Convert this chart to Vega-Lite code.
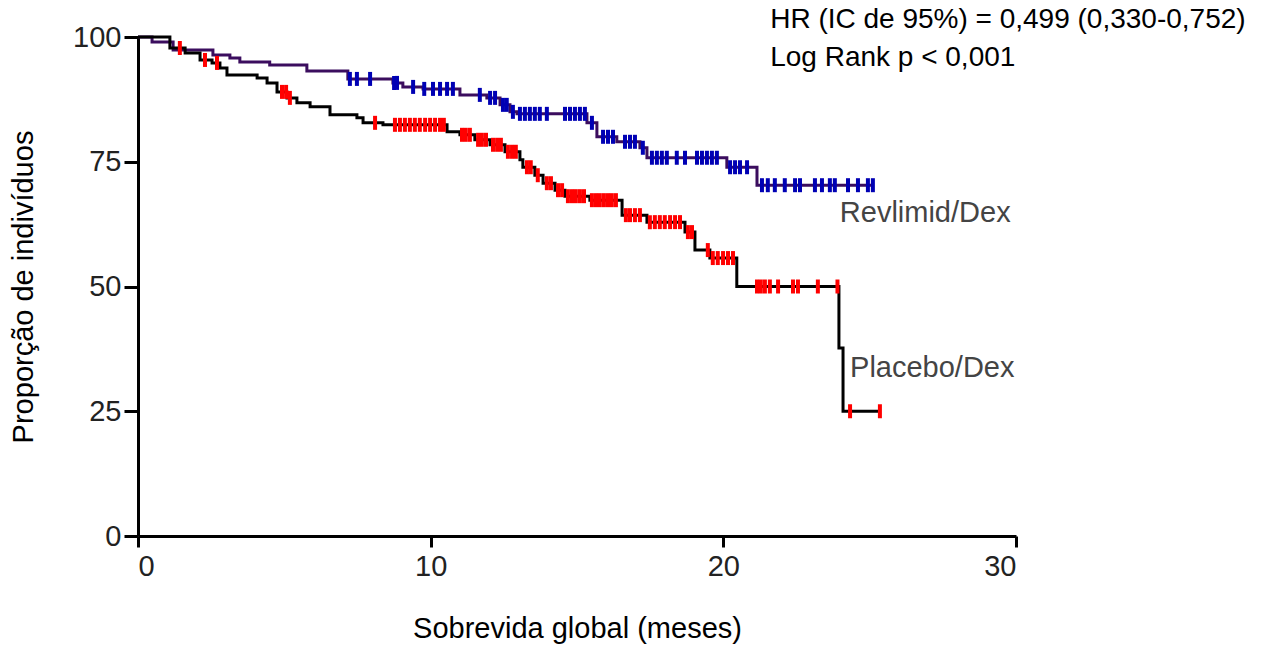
{
  "$schema": "https://vega.github.io/schema/vega-lite/v6.json",
  "autosize": "none",
  "width": 878,
  "height": 499,
  "padding": {"left": 138, "top": 37, "right": 272, "bottom": 113},
  "background": "white",
  "config": {
    "view": {"stroke": null},
    "font": "Liberation Sans",
    "axis": {"grid": false, "domainColor": "#000", "domainWidth": 3, "tickColor": "#000", "tickWidth": 3, "labelColor": "#222", "labelFont": "Liberation Sans", "labelFontSize": 29, "titleFont": "Liberation Sans", "titleFontSize": 29, "titleFontWeight": "normal", "titleColor": "#000"}
  },
  "datasets": {
    "curves": [
      {"grupo": "Revlimid/Dex", "t": 0, "s": 100},
      {"grupo": "Revlimid/Dex", "t": 0.48, "s": 99.0},
      {"grupo": "Revlimid/Dex", "t": 1.2, "s": 97.4},
      {"grupo": "Revlimid/Dex", "t": 2.56, "s": 96.4},
      {"grupo": "Revlimid/Dex", "t": 3.14, "s": 95.8},
      {"grupo": "Revlimid/Dex", "t": 3.48, "s": 95.0},
      {"grupo": "Revlimid/Dex", "t": 4.5, "s": 94.4},
      {"grupo": "Revlimid/Dex", "t": 5.77, "s": 93.2},
      {"grupo": "Revlimid/Dex", "t": 7.17, "s": 91.6},
      {"grupo": "Revlimid/Dex", "t": 8.71, "s": 90.8},
      {"grupo": "Revlimid/Dex", "t": 9.05, "s": 90.0},
      {"grupo": "Revlimid/Dex", "t": 9.74, "s": 89.6},
      {"grupo": "Revlimid/Dex", "t": 11.0, "s": 88.4},
      {"grupo": "Revlimid/Dex", "t": 11.92, "s": 87.8},
      {"grupo": "Revlimid/Dex", "t": 12.37, "s": 86.4},
      {"grupo": "Revlimid/Dex", "t": 12.71, "s": 85.0},
      {"grupo": "Revlimid/Dex", "t": 12.95, "s": 84.6},
      {"grupo": "Revlimid/Dex", "t": 15.34, "s": 82.8},
      {"grupo": "Revlimid/Dex", "t": 15.68, "s": 80.0},
      {"grupo": "Revlimid/Dex", "t": 16.36, "s": 79.0},
      {"grupo": "Revlimid/Dex", "t": 17.15, "s": 77.8},
      {"grupo": "Revlimid/Dex", "t": 17.39, "s": 75.8},
      {"grupo": "Revlimid/Dex", "t": 20.12, "s": 73.9},
      {"grupo": "Revlimid/Dex", "t": 21.15, "s": 70.3},
      {"grupo": "Revlimid/Dex", "t": 25.11, "s": 70.3},
      {"grupo": "Placebo/Dex", "t": 0, "s": 100},
      {"grupo": "Placebo/Dex", "t": 1.09, "s": 97.8},
      {"grupo": "Placebo/Dex", "t": 1.61, "s": 96.8},
      {"grupo": "Placebo/Dex", "t": 2.12, "s": 95.4},
      {"grupo": "Placebo/Dex", "t": 2.53, "s": 94.8},
      {"grupo": "Placebo/Dex", "t": 2.8, "s": 93.8},
      {"grupo": "Placebo/Dex", "t": 3.04, "s": 92.4},
      {"grupo": "Placebo/Dex", "t": 4.07, "s": 91.8},
      {"grupo": "Placebo/Dex", "t": 4.41, "s": 90.8},
      {"grupo": "Placebo/Dex", "t": 4.75, "s": 89.0},
      {"grupo": "Placebo/Dex", "t": 5.09, "s": 87.8},
      {"grupo": "Placebo/Dex", "t": 5.43, "s": 86.8},
      {"grupo": "Placebo/Dex", "t": 5.88, "s": 86.0},
      {"grupo": "Placebo/Dex", "t": 6.56, "s": 84.4},
      {"grupo": "Placebo/Dex", "t": 7.48, "s": 83.8},
      {"grupo": "Placebo/Dex", "t": 7.69, "s": 82.8},
      {"grupo": "Placebo/Dex", "t": 8.37, "s": 82.4},
      {"grupo": "Placebo/Dex", "t": 10.56, "s": 81.0},
      {"grupo": "Placebo/Dex", "t": 11.0, "s": 80.4},
      {"grupo": "Placebo/Dex", "t": 11.51, "s": 79.4},
      {"grupo": "Placebo/Dex", "t": 12.03, "s": 78.4},
      {"grupo": "Placebo/Dex", "t": 12.54, "s": 77.0},
      {"grupo": "Placebo/Dex", "t": 13.05, "s": 75.4},
      {"grupo": "Placebo/Dex", "t": 13.15, "s": 73.9},
      {"grupo": "Placebo/Dex", "t": 13.56, "s": 72.3},
      {"grupo": "Placebo/Dex", "t": 13.84, "s": 70.7},
      {"grupo": "Placebo/Dex", "t": 14.25, "s": 69.3},
      {"grupo": "Placebo/Dex", "t": 14.59, "s": 68.1},
      {"grupo": "Placebo/Dex", "t": 15.44, "s": 67.3},
      {"grupo": "Placebo/Dex", "t": 16.54, "s": 64.3},
      {"grupo": "Placebo/Dex", "t": 17.39, "s": 62.9},
      {"grupo": "Placebo/Dex", "t": 18.69, "s": 60.9},
      {"grupo": "Placebo/Dex", "t": 19.03, "s": 57.3},
      {"grupo": "Placebo/Dex", "t": 19.54, "s": 55.7},
      {"grupo": "Placebo/Dex", "t": 20.46, "s": 50},
      {"grupo": "Placebo/Dex", "t": 23.95, "s": 37.7},
      {"grupo": "Placebo/Dex", "t": 24.09, "s": 25},
      {"grupo": "Placebo/Dex", "t": 25.35, "s": 25}
    ],
    "censors": [
      {"grupo": "Revlimid/Dex", "t": 7.24, "s": 91.6},
      {"grupo": "Revlimid/Dex", "t": 7.48, "s": 91.6},
      {"grupo": "Revlimid/Dex", "t": 7.93, "s": 91.6},
      {"grupo": "Revlimid/Dex", "t": 8.75, "s": 90.8},
      {"grupo": "Revlimid/Dex", "t": 8.85, "s": 90.8},
      {"grupo": "Revlimid/Dex", "t": 9.4, "s": 90.0},
      {"grupo": "Revlimid/Dex", "t": 9.78, "s": 89.6},
      {"grupo": "Revlimid/Dex", "t": 10.08, "s": 89.6},
      {"grupo": "Revlimid/Dex", "t": 10.32, "s": 89.6},
      {"grupo": "Revlimid/Dex", "t": 10.56, "s": 89.6},
      {"grupo": "Revlimid/Dex", "t": 10.76, "s": 89.6},
      {"grupo": "Revlimid/Dex", "t": 11.68, "s": 88.4},
      {"grupo": "Revlimid/Dex", "t": 12.03, "s": 87.8},
      {"grupo": "Revlimid/Dex", "t": 12.2, "s": 87.8},
      {"grupo": "Revlimid/Dex", "t": 12.47, "s": 86.4},
      {"grupo": "Revlimid/Dex", "t": 12.6, "s": 86.4},
      {"grupo": "Revlimid/Dex", "t": 12.81, "s": 85.0},
      {"grupo": "Revlimid/Dex", "t": 13.05, "s": 84.6},
      {"grupo": "Revlimid/Dex", "t": 13.22, "s": 84.6},
      {"grupo": "Revlimid/Dex", "t": 13.39, "s": 84.6},
      {"grupo": "Revlimid/Dex", "t": 13.56, "s": 84.6},
      {"grupo": "Revlimid/Dex", "t": 13.73, "s": 84.6},
      {"grupo": "Revlimid/Dex", "t": 13.97, "s": 84.6},
      {"grupo": "Revlimid/Dex", "t": 14.59, "s": 84.6},
      {"grupo": "Revlimid/Dex", "t": 14.76, "s": 84.6},
      {"grupo": "Revlimid/Dex", "t": 14.93, "s": 84.6},
      {"grupo": "Revlimid/Dex", "t": 15.1, "s": 84.6},
      {"grupo": "Revlimid/Dex", "t": 15.27, "s": 84.6},
      {"grupo": "Revlimid/Dex", "t": 15.51, "s": 82.8},
      {"grupo": "Revlimid/Dex", "t": 15.89, "s": 80.0},
      {"grupo": "Revlimid/Dex", "t": 16.06, "s": 80.0},
      {"grupo": "Revlimid/Dex", "t": 16.23, "s": 80.0},
      {"grupo": "Revlimid/Dex", "t": 16.64, "s": 79.0},
      {"grupo": "Revlimid/Dex", "t": 16.81, "s": 79.0},
      {"grupo": "Revlimid/Dex", "t": 16.98, "s": 79.0},
      {"grupo": "Revlimid/Dex", "t": 17.25, "s": 77.8},
      {"grupo": "Revlimid/Dex", "t": 17.56, "s": 75.8},
      {"grupo": "Revlimid/Dex", "t": 17.73, "s": 75.8},
      {"grupo": "Revlimid/Dex", "t": 17.9, "s": 75.8},
      {"grupo": "Revlimid/Dex", "t": 18.07, "s": 75.8},
      {"grupo": "Revlimid/Dex", "t": 18.41, "s": 75.8},
      {"grupo": "Revlimid/Dex", "t": 18.69, "s": 75.8},
      {"grupo": "Revlimid/Dex", "t": 19.1, "s": 75.8},
      {"grupo": "Revlimid/Dex", "t": 19.27, "s": 75.8},
      {"grupo": "Revlimid/Dex", "t": 19.44, "s": 75.8},
      {"grupo": "Revlimid/Dex", "t": 19.61, "s": 75.8},
      {"grupo": "Revlimid/Dex", "t": 19.78, "s": 75.8},
      {"grupo": "Revlimid/Dex", "t": 20.23, "s": 73.9},
      {"grupo": "Revlimid/Dex", "t": 20.4, "s": 73.9},
      {"grupo": "Revlimid/Dex", "t": 20.57, "s": 73.9},
      {"grupo": "Revlimid/Dex", "t": 20.81, "s": 73.9},
      {"grupo": "Revlimid/Dex", "t": 21.32, "s": 70.3},
      {"grupo": "Revlimid/Dex", "t": 21.52, "s": 70.3},
      {"grupo": "Revlimid/Dex", "t": 21.76, "s": 70.3},
      {"grupo": "Revlimid/Dex", "t": 22.1, "s": 70.3},
      {"grupo": "Revlimid/Dex", "t": 22.45, "s": 70.3},
      {"grupo": "Revlimid/Dex", "t": 22.62, "s": 70.3},
      {"grupo": "Revlimid/Dex", "t": 23.13, "s": 70.3},
      {"grupo": "Revlimid/Dex", "t": 23.37, "s": 70.3},
      {"grupo": "Revlimid/Dex", "t": 23.64, "s": 70.3},
      {"grupo": "Revlimid/Dex", "t": 23.81, "s": 70.3},
      {"grupo": "Revlimid/Dex", "t": 24.26, "s": 70.3},
      {"grupo": "Revlimid/Dex", "t": 24.6, "s": 70.3},
      {"grupo": "Revlimid/Dex", "t": 24.94, "s": 70.3},
      {"grupo": "Revlimid/Dex", "t": 25.11, "s": 70.3},
      {"grupo": "Placebo/Dex", "t": 1.43, "s": 97.8},
      {"grupo": "Placebo/Dex", "t": 2.29, "s": 95.4},
      {"grupo": "Placebo/Dex", "t": 2.7, "s": 94.8},
      {"grupo": "Placebo/Dex", "t": 4.92, "s": 89.0},
      {"grupo": "Placebo/Dex", "t": 5.06, "s": 89.0},
      {"grupo": "Placebo/Dex", "t": 5.19, "s": 87.8},
      {"grupo": "Placebo/Dex", "t": 8.1, "s": 82.8},
      {"grupo": "Placebo/Dex", "t": 8.78, "s": 82.4},
      {"grupo": "Placebo/Dex", "t": 8.95, "s": 82.4},
      {"grupo": "Placebo/Dex", "t": 9.12, "s": 82.4},
      {"grupo": "Placebo/Dex", "t": 9.29, "s": 82.4},
      {"grupo": "Placebo/Dex", "t": 9.46, "s": 82.4},
      {"grupo": "Placebo/Dex", "t": 9.63, "s": 82.4},
      {"grupo": "Placebo/Dex", "t": 9.81, "s": 82.4},
      {"grupo": "Placebo/Dex", "t": 9.98, "s": 82.4},
      {"grupo": "Placebo/Dex", "t": 10.15, "s": 82.4},
      {"grupo": "Placebo/Dex", "t": 10.32, "s": 82.4},
      {"grupo": "Placebo/Dex", "t": 10.45, "s": 82.4},
      {"grupo": "Placebo/Dex", "t": 11.07, "s": 80.4},
      {"grupo": "Placebo/Dex", "t": 11.2, "s": 80.4},
      {"grupo": "Placebo/Dex", "t": 11.34, "s": 80.4},
      {"grupo": "Placebo/Dex", "t": 11.62, "s": 79.4},
      {"grupo": "Placebo/Dex", "t": 11.75, "s": 79.4},
      {"grupo": "Placebo/Dex", "t": 11.89, "s": 79.4},
      {"grupo": "Placebo/Dex", "t": 12.13, "s": 78.4},
      {"grupo": "Placebo/Dex", "t": 12.27, "s": 78.4},
      {"grupo": "Placebo/Dex", "t": 12.4, "s": 78.4},
      {"grupo": "Placebo/Dex", "t": 12.64, "s": 77.0},
      {"grupo": "Placebo/Dex", "t": 12.78, "s": 77.0},
      {"grupo": "Placebo/Dex", "t": 12.91, "s": 77.0},
      {"grupo": "Placebo/Dex", "t": 13.29, "s": 73.9},
      {"grupo": "Placebo/Dex", "t": 13.42, "s": 73.9},
      {"grupo": "Placebo/Dex", "t": 13.66, "s": 72.3},
      {"grupo": "Placebo/Dex", "t": 13.97, "s": 70.7},
      {"grupo": "Placebo/Dex", "t": 14.11, "s": 70.7},
      {"grupo": "Placebo/Dex", "t": 14.35, "s": 69.3},
      {"grupo": "Placebo/Dex", "t": 14.49, "s": 69.3},
      {"grupo": "Placebo/Dex", "t": 14.69, "s": 68.1},
      {"grupo": "Placebo/Dex", "t": 14.83, "s": 68.1},
      {"grupo": "Placebo/Dex", "t": 14.96, "s": 68.1},
      {"grupo": "Placebo/Dex", "t": 15.1, "s": 68.1},
      {"grupo": "Placebo/Dex", "t": 15.24, "s": 68.1},
      {"grupo": "Placebo/Dex", "t": 15.51, "s": 67.3},
      {"grupo": "Placebo/Dex", "t": 15.65, "s": 67.3},
      {"grupo": "Placebo/Dex", "t": 15.78, "s": 67.3},
      {"grupo": "Placebo/Dex", "t": 15.92, "s": 67.3},
      {"grupo": "Placebo/Dex", "t": 16.06, "s": 67.3},
      {"grupo": "Placebo/Dex", "t": 16.19, "s": 67.3},
      {"grupo": "Placebo/Dex", "t": 16.33, "s": 67.3},
      {"grupo": "Placebo/Dex", "t": 16.67, "s": 64.3},
      {"grupo": "Placebo/Dex", "t": 16.81, "s": 64.3},
      {"grupo": "Placebo/Dex", "t": 16.98, "s": 64.3},
      {"grupo": "Placebo/Dex", "t": 17.15, "s": 64.3},
      {"grupo": "Placebo/Dex", "t": 17.49, "s": 62.9},
      {"grupo": "Placebo/Dex", "t": 17.66, "s": 62.9},
      {"grupo": "Placebo/Dex", "t": 17.83, "s": 62.9},
      {"grupo": "Placebo/Dex", "t": 18.0, "s": 62.9},
      {"grupo": "Placebo/Dex", "t": 18.18, "s": 62.9},
      {"grupo": "Placebo/Dex", "t": 18.35, "s": 62.9},
      {"grupo": "Placebo/Dex", "t": 18.52, "s": 62.9},
      {"grupo": "Placebo/Dex", "t": 18.79, "s": 60.9},
      {"grupo": "Placebo/Dex", "t": 18.93, "s": 60.9},
      {"grupo": "Placebo/Dex", "t": 19.47, "s": 57.3},
      {"grupo": "Placebo/Dex", "t": 19.64, "s": 55.7},
      {"grupo": "Placebo/Dex", "t": 19.81, "s": 55.7},
      {"grupo": "Placebo/Dex", "t": 19.99, "s": 55.7},
      {"grupo": "Placebo/Dex", "t": 20.16, "s": 55.7},
      {"grupo": "Placebo/Dex", "t": 20.33, "s": 55.7},
      {"grupo": "Placebo/Dex", "t": 21.15, "s": 50},
      {"grupo": "Placebo/Dex", "t": 21.28, "s": 50},
      {"grupo": "Placebo/Dex", "t": 21.42, "s": 50},
      {"grupo": "Placebo/Dex", "t": 21.59, "s": 50},
      {"grupo": "Placebo/Dex", "t": 21.87, "s": 50},
      {"grupo": "Placebo/Dex", "t": 22.38, "s": 50},
      {"grupo": "Placebo/Dex", "t": 22.55, "s": 50},
      {"grupo": "Placebo/Dex", "t": 23.23, "s": 50},
      {"grupo": "Placebo/Dex", "t": 23.9, "s": 50},
      {"grupo": "Placebo/Dex", "t": 24.33, "s": 25},
      {"grupo": "Placebo/Dex", "t": 25.35, "s": 25}
    ],
    "labels": [
      {"label": "Revlimid/Dex", "t": 23.98, "s": 64.7},
      {"label": "Placebo/Dex", "t": 24.33, "s": 33.7}
    ],
    "stats": [
      {"label": "HR (IC de 95%) = 0,499 (0,330-0,752)", "t": 21.6, "s": 103.4},
      {"label": "Log Rank p < 0,001", "t": 21.6, "s": 95.8}
    ]
  },
  "encoding": {
    "x": {"field": "t", "type": "quantitative", "scale": {"domain": [0, 30], "nice": false}, "axis": {"values": [0, 10, 20, 30], "tickSize": 11, "labelPadding": 5, "title": "Sobrevida global (meses)", "titlePadding": 33}},
    "y": {"field": "s", "type": "quantitative", "scale": {"domain": [0, 100], "nice": false}, "axis": {"values": [0, 25, 50, 75, 100], "tickSize": 14, "labelPadding": 3, "title": "Proporção de indivíduos", "titlePadding": 34}}
  },
  "layer": [
    {
      "data": {"name": "curves"},
      "mark": {"type": "line", "interpolate": "step-after", "strokeWidth": 3},
      "encoding": {
        "detail": {"field": "grupo"},
        "color": {"field": "grupo", "type": "nominal", "scale": {"domain": ["Revlimid/Dex", "Placebo/Dex"], "range": ["#3b0d5e", "#000000"]}, "legend": null}
      }
    },
    {
      "data": {"name": "censors"},
      "mark": {"type": "tick", "orient": "vertical", "size": 14, "thickness": 4, "opacity": 1},
      "encoding": {
        "color": {"field": "grupo", "type": "nominal", "scale": {"domain": ["Revlimid/Dex", "Placebo/Dex"], "range": ["#0000b4", "#ff0000"]}, "legend": null}
      }
    },
    {
      "data": {"name": "labels"},
      "mark": {"type": "text", "align": "left", "baseline": "middle", "fontSize": 29, "color": "#444", "font": "Liberation Sans"},
      "encoding": {"text": {"field": "label"}}
    },
    {
      "data": {"name": "stats"},
      "mark": {"type": "text", "align": "left", "baseline": "middle", "fontSize": 28, "color": "#000", "font": "Liberation Sans"},
      "encoding": {"text": {"field": "label"}}
    }
  ],
  "resolve": {"scale": {"color": "independent"}}
}
